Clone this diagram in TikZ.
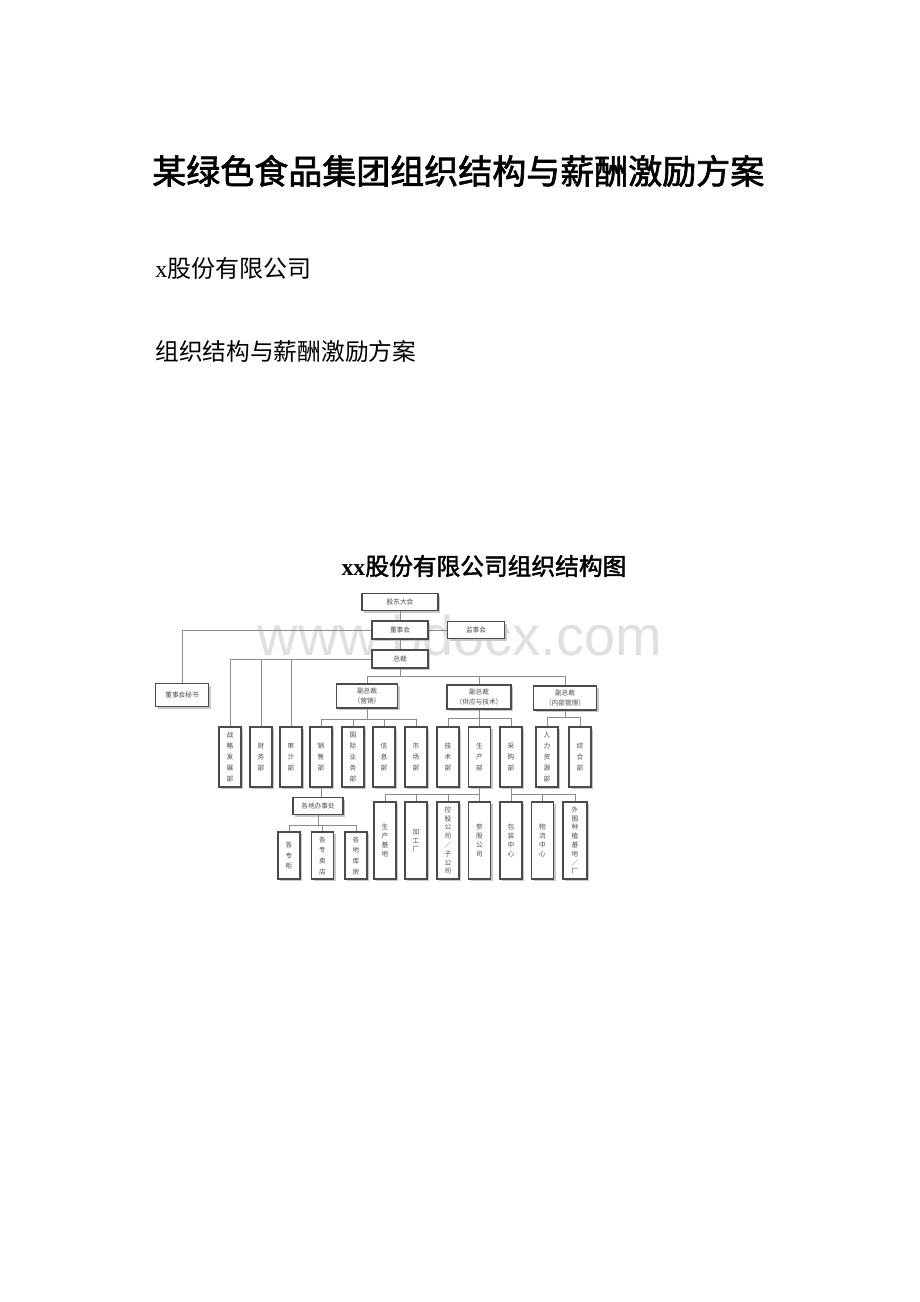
\documentclass[tikz,border=0pt]{standalone}
\usepackage{fontspec}
\setmainfont{Liberation Serif}
\newfontfamily\cjk{Noto Sans CJK SC}
\newfontfamily\cjkbold[FakeBold=2]{Noto Sans CJK SC}
\newfontfamily\wmfont{Liberation Sans}
\usetikzlibrary{shadows}
\tikzset{
  box/.style={ % Every box of the chart
    draw=black!70, line width=0.9pt, fill=white,
    drop shadow={shadow xshift=1.8pt, shadow yshift=-1.8pt, fill=black!22, opacity=1},
    inner sep=0pt, align=center, text=black!70,
    font=\cjk\fontsize{5}{7.5}\selectfont},
  wide box/.style={box, minimum width=42pt, minimum height=13.5pt},
  vbox/.style={box, minimum width=16.5pt, minimum height=45pt,
    font=\cjk\fontsize{5}{8.2}\selectfont}, % Departments
  tall box/.style={box, minimum width=16.5pt, minimum height=57.75pt,
    font=\cjk\fontsize{5}{6.6}\selectfont},
  short box/.style={box, minimum width=16.5pt, minimum height=35.25pt,
    font=\cjk\fontsize{5}{8}\selectfont},
  link/.style={draw=black!45, line width=0.5pt}} % Connectors

\begin{document}
\begin{tikzpicture}[x=0.75pt, y=-0.75pt]
  \useasboundingbox (0,0) rectangle (920,1302);
  % Headings
  \node[anchor=west, inner sep=0pt, font=\cjkbold\fontsize{25.5}{25.5}\selectfont] (title) at (152,171) {某绿色食品集团组织结构与薪酬激励方案};
  \node[anchor=west, inner sep=0pt, font=\fontsize{18}{18}\selectfont] (firm) at (155,268) {x{\cjk 股份有限公司}};
  \node[anchor=west, inner sep=0pt, font=\cjk\fontsize{17.8}{17.8}\selectfont] (plan) at (155,351) {组织结构与薪酬激励方案};
  \node[inner sep=0pt, font=\bfseries\fontsize{17.8}{17.8}\selectfont] (charttitle) at (484,566) {xx{\cjkbold\mdseries 股份有限公司组织结构图}};
  \node[text=black!12, font=\wmfont\fontsize{42}{42}\selectfont] (wm) at (460,635) {www.bdocx.com};

  % Top of the chart
  \node[box, minimum width=57pt, minimum height=12.75pt] (gd) at (400,602) {股东大会};
  \node[wide box] (dsh) at (400,630) {董事会};
  \node[wide box, minimum width=43pt, minimum height=12.75pt] (jsh) at (476,630) {监事会};
  \node[wide box] (zc) at (400,659) {总裁};
  \node[box, minimum width=40pt, minimum height=17pt] (ms) at (182,695) {董事会秘书};
  \node[box, minimum width=46pt, minimum height=18pt] (fz1) at (367,696) {副总裁\\（营销）};
  \node[box, minimum width=48pt, minimum height=18pt] (fz2) at (479,697) {副总裁\\（供应与技术）};
  \node[box, minimum width=47pt, minimum height=18pt] (fz3) at (565,698) {副总裁\\（内部管理）};

  % Departments
  \node[vbox] (zl) at (230,757) {战\\略\\发\\展\\部};
  \node[vbox] (cw) at (261,757) {财\\务\\部};
  \node[vbox] (sj) at (291,757) {审\\计\\部};
  \node[vbox] (xs) at (321,757) {销\\售\\部};
  \node[vbox] (gj) at (353,757) {国\\际\\业\\务\\部};
  \node[vbox] (xx) at (384,757) {信\\息\\部};
  \node[vbox] (sc) at (416,757) {市\\场\\部};
  \node[vbox] (js) at (448,757) {技\\术\\部};
  \node[vbox] (scb) at (479.5,757) {生\\产\\部};
  \node[vbox] (cg) at (511,757) {采\\购\\部};
  \node[vbox] (rl) at (547,757) {人\\力\\资\\源\\部};
  \node[vbox] (zh) at (580,757) {综\\合\\部};

  % Lower level
  \node[box, minimum width=37.5pt, minimum height=12.75pt] (bs) at (318,806) {各地办事处};
  \node[short box] (zg) at (289,855.5) {各\\专\\柜};
  \node[short box] (zm) at (322.5,855.5) {各\\专\\卖\\店};
  \node[short box] (kf) at (356,855.5) {各\\地\\库\\房};
  \node[tall box] (jd) at (385,840.5) {生\\产\\基\\地};
  \node[tall box] (jg) at (416,840.5) {加\\工\\厂};
  \node[tall box] (kg) at (448,840.5) {控\\股\\公\\司\\／\\子\\公\\司};
  \node[tall box] (cgs) at (479.5,840.5) {参\\股\\公\\司};
  \node[tall box] (bz) at (511,840.5) {包\\装\\中\\心};
  \node[tall box] (wl) at (542.5,840.5) {物\\流\\中\\心};
  \node[tall box, minimum width=18pt] (ww) at (575,840.5) {外\\围\\种\\植\\基\\地\\／\\厂};

  % Bus levels
  \coordinate (bzc) at (0,676);
  \coordinate (b1) at (0,719);
  \coordinate (b2) at (0,718);
  \coordinate (b3) at (0,717);
  \coordinate (b4) at (0,825);
  \coordinate (b5) at (0,794);

  % Connectors
  \draw[link] (gd) -- (dsh);
  \draw[link] (dsh) -- (zc);
  \draw[link] (dsh) -- (jsh);
  \draw[link] (dsh.west) -| (ms.north);
  \draw[link] (zc.west) -| (zl.north);
  \foreach \d in {cw,sj}
    \draw[link] (\d.north) -- (\d.north |- zc.west);
  \draw[link] (zc.south) -- (zc.south |- bzc);
  \draw[link] (fz1.north) |- (fz3.north |- bzc) -- (fz3.north);
  \draw[link] (fz2.north) -- (fz2.north |- bzc);
  % Sales and marketing
  \draw[link] (fz1.south) -- (fz1.south |- b1);
  \draw[link] (xs.north) |- (sc.north |- b1) -- (sc.north);
  \foreach \d in {gj,xx}
    \draw[link] (\d.north) -- (\d.north |- b1);
  % Supply and technology
  \draw[link] (fz2.south) -- (fz2.south |- b2);
  \draw[link] (js.north) |- (cg.north |- b2) -- (cg.north);
  \draw[link] (scb.north) -- (scb.north |- b2);
  % Internal management
  \draw[link] (fz3.south) -- (fz3.south |- b3);
  \draw[link] (rl.north) |- (zh.north |- b3) -- (zh.north);
  % Below the departments
  \draw[link] (xs.south) -- (xs.south |- bs.north);
  \draw[link] (bs.south) -- (bs.south |- b4);
  \draw[link] (zg.north) |- (kf.north |- b4) -- (kf.north);
  \draw[link] (zm.north) -- (zm.north |- b4);
  \draw[link] (scb.south) -- (cgs.north);
  \draw[link] (jd.north) |- (cgs.north |- b5);
  \foreach \d in {jg,kg}
    \draw[link] (\d.north) -- (\d.north |- b5);
  \draw[link] (cg.south) -- (bz.north);
  \draw[link] (bz.north |- b5) -| (ww.north);
  \draw[link] (wl.north) -- (wl.north |- b5);
\end{tikzpicture}
\end{document}
